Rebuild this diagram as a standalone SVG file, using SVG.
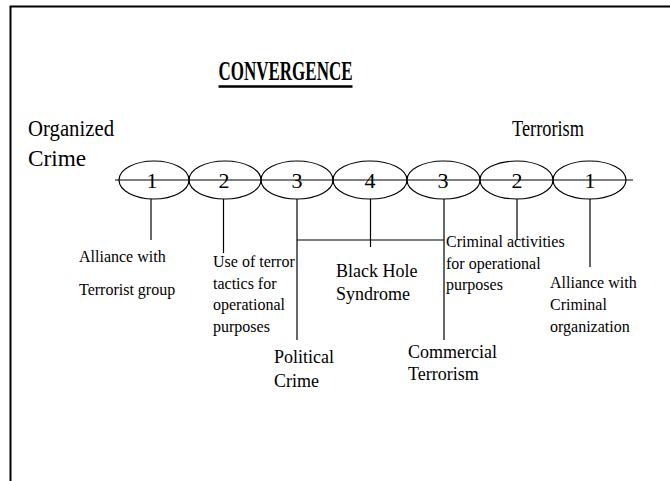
<svg xmlns="http://www.w3.org/2000/svg" width="670" height="481" viewBox="0 0 670 481" font-family="'Liberation Serif', 'DejaVu Serif', 'Times New Roman', serif">
<style>
text{font-family:'Liberation Serif','DejaVu Serif','Times New Roman',serif;fill:#000}
.s{font-size:16px}
.m{font-size:18px}
.l{font-size:23px}
.n{font-size:22px;text-anchor:middle}
.ln{stroke:#000;stroke-width:1.2;fill:none}
.el{stroke:#000;stroke-width:1.2;fill:none}
</style>
<rect width="670" height="481" fill="#fff"/>
<path d="M10.5 481 V6.5 H670" stroke="#000" stroke-width="2" fill="none"/>
<g id="title">
<text x="285.5" y="80" text-anchor="middle" font-size="27" font-weight="bold" textLength="134" lengthAdjust="spacingAndGlyphs">CONVERGENCE</text>
<line x1="218.5" y1="86.5" x2="352.5" y2="86.5" stroke="#000" stroke-width="2.5"/>
</g>
<g id="organized-crime"><text class="l" x="28" y="136" textLength="86" lengthAdjust="spacingAndGlyphs">Organized</text><text class="l" x="28" y="166" textLength="58" lengthAdjust="spacingAndGlyphs">Crime</text></g>
<g id="terrorism"><text class="l" x="512" y="136" textLength="72" lengthAdjust="spacingAndGlyphs">Terrorism</text></g>
<g id="connectors">
<line class="ln" x1="115" y1="180" x2="633" y2="180"/>
<line class="ln" x1="151" y1="199" x2="151" y2="240"/>
<line class="ln" x1="223.5" y1="199" x2="223.5" y2="253"/>
<line class="ln" x1="297" y1="199" x2="297" y2="340"/>
<line class="ln" x1="297" y1="240" x2="444" y2="240"/>
<line class="ln" x1="370.5" y1="199" x2="370.5" y2="247"/>
<line class="ln" x1="444" y1="199" x2="444" y2="340"/>
<line class="ln" x1="517" y1="199" x2="517" y2="240"/>
<line class="ln" x1="590" y1="199" x2="590" y2="267"/>
</g>
<g id="e1l"><ellipse class="el" cx="154" cy="180" rx="35" ry="19"/><text class="n" x="152" y="188">1</text></g>
<g id="e2l"><ellipse class="el" cx="225" cy="180" rx="36" ry="19"/><text class="n" x="224" y="188">2</text></g>
<g id="e3l"><ellipse class="el" cx="297" cy="180" rx="36" ry="19"/><text class="n" x="297" y="188">3</text></g>
<g id="e4"><ellipse class="el" cx="370" cy="180" rx="37" ry="19"/><text class="n" x="370" y="188">4</text></g>
<g id="e3r"><ellipse class="el" cx="443.5" cy="180" rx="36.5" ry="19"/><text class="n" x="443" y="188">3</text></g>
<g id="e2r"><ellipse class="el" cx="516.5" cy="180" rx="36.5" ry="19"/><text class="n" x="517" y="188">2</text></g>
<g id="e1r"><ellipse class="el" cx="589.5" cy="180" rx="36.5" ry="19"/><text class="n" x="590" y="188">1</text></g>
<g id="lbl-alliance-terrorist"><text class="s" x="79" y="262">Alliance with</text><text class="s" x="79" y="295">Terrorist group</text></g>
<g id="lbl-terror-tactics"><text class="s" x="213" y="267">Use of terror</text><text class="s" x="213" y="289">tactics for</text><text class="s" x="213" y="310">operational</text><text class="s" x="213" y="332">purposes</text></g>
<g id="lbl-black-hole"><text class="m" x="336" y="277">Black Hole</text><text class="m" x="336" y="300">Syndrome</text></g>
<g id="lbl-criminal-activities"><text class="s" x="446" y="247">Criminal activities</text><text class="s" x="446" y="269">for operational</text><text class="s" x="446" y="290">purposes</text></g>
<g id="lbl-alliance-criminal"><text class="s" x="550" y="288">Alliance with</text><text class="s" x="550" y="310">Criminal</text><text class="s" x="550" y="332">organization</text></g>
<g id="lbl-political"><text class="m" x="274" y="363">Political</text><text class="m" x="274" y="387">Crime</text></g>
<g id="lbl-commercial"><text class="m" x="408" y="358">Commercial</text><text class="m" x="408" y="380">Terrorism</text></g>
</svg>
